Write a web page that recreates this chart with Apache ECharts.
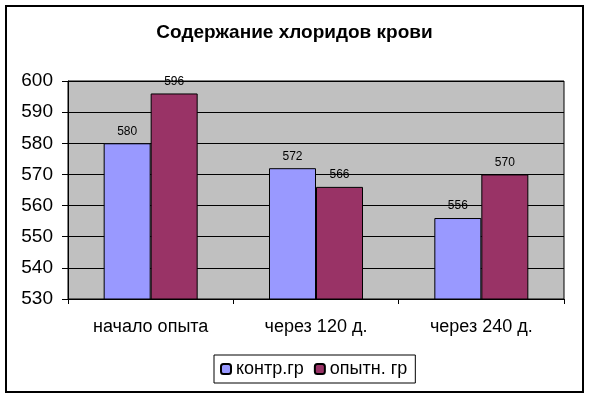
<!DOCTYPE html>
<html lang="ru">
<head>
    <meta charset="UTF-8">
    <title>Содержание хлоридов крови</title>
    <script src="https://cdn.jsdelivr.net/npm/echarts@6/dist/echarts.min.js"></script>
    <style>
        body { margin: 0; background: #fff; }
        #frame { position: absolute; left: 5px; top: 5px; width: 575px; height: 384px; border: 2px solid #000; }
        #chart { width: 589px; height: 398px; position: absolute; left: 0; top: 0; }
    </style>
</head>
<body>
    <div id="frame"></div>
    <div id="chart"></div>
<script>
    // категории и значения
    var categories = ['начало опыта', 'через 120 д.', 'через 240 д.'];
    var controlGroup = [580, 572, 556];
    var testGroup = [596, 566, 570];
    var seriesNames = ['контр.гр', 'опытн. гр'];

    var myChart = echarts.init(document.getElementById('chart'));
    var font = 'Arial, "Liberation Sans", sans-serif';

    var option = {
        animation: false,
        title: {
            text: 'Содержание хлоридов крови',
            left: 'center',
            top: 18,
            textStyle: { fontFamily: font, fontSize: 19, fontWeight: 'bold', color: '#000' }
        },
        legend: {
            data: seriesNames,
            left: 214,
            top: 355,
            padding: [5, 8, 5, 6],
            borderColor: '#000',
            borderWidth: 1,
            itemWidth: 10,
            itemHeight: 10,
            itemGap: 10,
            textStyle: { fontFamily: font, fontSize: 18, color: '#000' }
        },
        grid: {
            left: 68,
            right: 25,
            top: 81,
            bottom: 99,
            show: true,
            backgroundColor: '#C0C0C0',
            borderColor: '#000',
            borderWidth: 1
        },
        xAxis: {
            type: 'category',
            data: categories,
            axisLine: { lineStyle: { color: '#000' } },
            axisTick: { show: true, length: 5, lineStyle: { color: '#000' } },
            axisLabel: { margin: 19, fontFamily: font, fontSize: 18, color: '#000' }
        },
        yAxis: {
            type: 'value',
            min: 530,
            max: 600,
            interval: 10,
            axisLine: { show: true, lineStyle: { color: '#000' } },
            axisTick: { show: true, length: 6, lineStyle: { color: '#000' } },
            axisLabel: { margin: 15, fontFamily: font, fontSize: 19, color: '#000' },
            splitLine: { lineStyle: { color: '#000', width: 1 } }
        },
        series: [
            {
                name: seriesNames[0],
                type: 'bar',
                data: controlGroup,
                barWidth: 47,
                barGap: '0%',
                itemStyle: { color: '#9999FF', borderColor: '#000', borderWidth: 1 },
                label: { show: true, position: 'top', distance: 6, fontFamily: font, fontSize: 12, color: '#000' }
            },
            {
                name: seriesNames[1],
                type: 'bar',
                data: testGroup,
                barWidth: 47,
                barGap: '0%',
                itemStyle: { color: '#993366', borderColor: '#000', borderWidth: 1 },
                label: { show: true, position: 'top', distance: 6, fontFamily: font, fontSize: 12, color: '#000' }
            }
        ]
    };

    myChart.setOption(option);
</script>
</body>
</html>
